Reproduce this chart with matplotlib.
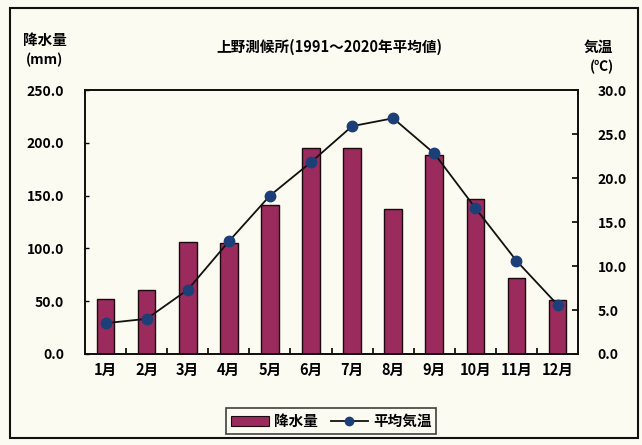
import matplotlib.pyplot as plt
import matplotlib.patches as mpatches
from matplotlib.lines import Line2D
import numpy as np

plt.rcParams['font.family'] = ['Noto Sans CJK JP', 'DejaVu Sans']

# 上野測候所 1991-2020 平年値
months = ['1月', '2月', '3月', '4月', '5月', '6月',
          '7月', '8月', '9月', '10月', '11月', '12月']
rain = [52.5, 61.0, 105.8, 104.9, 140.9, 195.3,
        195.0, 137.2, 188.5, 146.9, 72.2, 50.9]
temp = [3.5, 4.0, 7.3, 12.8, 18.0, 21.8,
        25.9, 26.8, 22.8, 16.6, 10.6, 5.6]

rain_ticks = [0, 50, 100, 150, 200, 250]
temp_ticks = [0, 5, 10, 15, 20, 25, 30]

paper = '#fcfbf1'
bar_col = '#9a2b5c'
dot_col = '#1d3f78'

fig = plt.figure(figsize=(6.42, 4.45), dpi=100, facecolor=paper)
ax = fig.add_axes([0.1324, 0.2045, 0.768, 0.593])
ax.set_facecolor(paper)

x = np.arange(len(months))
ax.bar(x, rain, width=0.43, color=bar_col, edgecolor='#1a0a10', linewidth=1.0, zorder=2)
ax.set_xlim(-0.5, 11.5)
ax.set_ylim(0, 250)
ax.set_yticks(rain_ticks)
ax.set_yticklabels([f'{v:.1f}' for v in rain_ticks], fontsize=10, fontweight='bold')
ax.set_xticks(x)
ax.set_xticklabels(months, fontsize=10.5, fontweight='bold')
ax.set_xticks(np.arange(0.5, 11.5, 1), minor=True)
ax.tick_params(axis='x', which='major', length=0, pad=6)
ax.tick_params(axis='x', which='minor', direction='in', length=4, width=1.2)
ax.tick_params(axis='y', direction='in', length=3, width=1.0, pad=15)
for s in ax.spines.values():
    s.set_linewidth(1.3)
    s.set_color('#111111')

ax2 = ax.twinx()
ax2.plot(x, temp, color='#111111', linewidth=1.3, marker='o', markersize=7.5,
         markerfacecolor=dot_col, markeredgecolor=dot_col, zorder=3)
ax2.set_ylim(0, 30)
ax2.set_yticks(temp_ticks)
ax2.set_yticklabels([f'{v:.1f}' for v in temp_ticks], fontsize=10, fontweight='bold')
ax2.tick_params(axis='y', direction='in', length=4, width=1.2, pad=14)
for s in ax2.spines.values():
    s.set_linewidth(1.3)
    s.set_color('#111111')

# titles and axis captions
fig.text(0.513, 0.895, '上野測候所(1991～2020年平均値)', ha='center', va='center',
         fontsize=10.5, fontweight='bold')
fig.text(0.070, 0.910, '降水量', ha='center', va='center', fontsize=10.5, fontweight='bold')
fig.text(0.070, 0.866, '(mm)', ha='center', va='center', fontsize=10, fontweight='bold')
fig.text(0.932, 0.895, '気温', ha='center', va='center', fontsize=10.5, fontweight='bold')
fig.text(0.937, 0.850, '(℃)', ha='center', va='center', fontsize=10, fontweight='bold')

# legend
handles = [mpatches.Patch(facecolor=bar_col, edgecolor='#1a0a10', linewidth=0.8),
           Line2D([], [], color='#111111', linewidth=1.3, marker='o', markersize=6,
                  markerfacecolor=dot_col, markeredgecolor=dot_col)]
leg = fig.legend(handles, ['降水量', '平均気温'], loc='center', ncol=2,
                 bbox_to_anchor=(0.516, 0.054), frameon=True, fancybox=False,
                 prop={'size': 10.5, 'weight': 'bold'}, handlelength=2.6,
                 handleheight=0.7, columnspacing=0.9, handletextpad=0.3,
                 borderpad=0.35)
leg.get_frame().set_edgecolor('#111111')
leg.get_frame().set_linewidth(1.2)
leg.get_frame().set_facecolor(paper)

# outer frame
fig.patches.append(mpatches.Rectangle((0.016, 0.016), 0.978, 0.966, transform=fig.transFigure,
                                      fill=False, edgecolor='#111111', linewidth=1.5))

fig.savefig('out.png', dpi=100, facecolor=paper)
